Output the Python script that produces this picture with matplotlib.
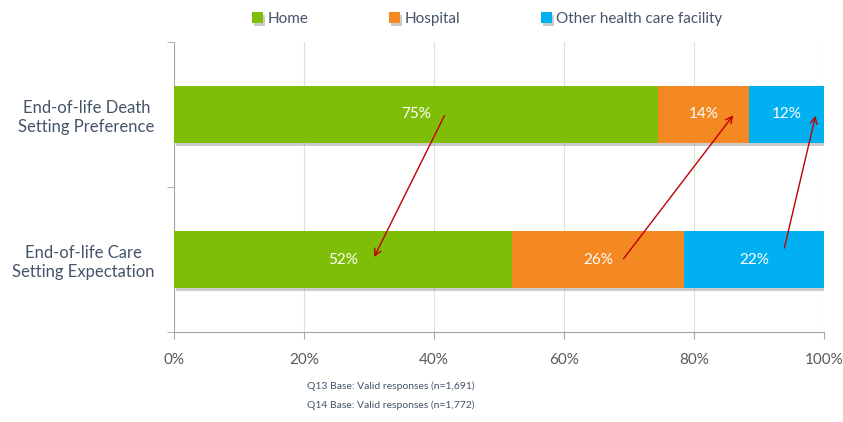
import matplotlib.pyplot as plt
import matplotlib.patheffects as pe
from matplotlib.ticker import MultipleLocator, FixedLocator

plt.rcParams['font.family'] = ['Lato', 'DejaVu Sans']

categories = ['End-of-life Care\nSetting Expectation', 'End-of-life Death\nSetting Preference']
series = ['Home', 'Hospital', 'Other health care facility']
home = [52.0, 74.5]
hospital = [26.5, 14.0]
other = [21.5, 11.5]
labels = [['52%', '75%'], ['26%', '14%'], ['22%', '12%']]
colors = ['#7FBE08', '#F48823', '#00B0F0']

# arrows: (x_from, y_from) -> (x_to, y_to) in data units
arrows = [((41.8, 1.01), (30.6, 0.0)),
          ((68.9, -0.01), (86.3, 1.01)),
          ((93.8, 0.06), (98.8, 1.01))]

fig = plt.figure(figsize=(8.43, 4.22), dpi=100)
ax = fig.add_axes([174/843, 90/422, 650/843, 290/422])

y = range(len(categories))
left = [0, 0]
shadow = [pe.SimplePatchShadow(offset=(1.5, -2), shadow_rgbFace='#8C8C8C', alpha=0.45), pe.Normal()]
for vals, lab, col, name in zip([home, hospital, other], labels, colors, series):
    bars = ax.barh(y, vals, left=left, height=0.39, color=col, label=name, zorder=3)
    for b in bars:
        b.set_path_effects(shadow)
    for i, v in enumerate(vals):
        ax.text(left[i] + v / 2, i, lab[i], ha='center', va='center', color='white', fontsize=11, zorder=5)
    left = [l + v for l, v in zip(left, vals)]

for (x0, y0), (x1, y1) in arrows:
    ax.annotate('', xy=(x1, y1), xytext=(x0, y0),
                arrowprops=dict(arrowstyle='->', color='#C00000', lw=1.0, mutation_scale=12), zorder=6)

ax.set_xlim(0, 100)
ax.set_ylim(-0.5, 1.5)
ax.xaxis.set_major_locator(MultipleLocator(20))
ax.set_xticklabels([f'{int(t)}%' for t in ax.get_xticks()])
ax.grid(axis='x', color='#D7E9C8', lw=0.8, zorder=0)
ax.set_yticks(list(y))
ax.set_yticklabels(categories, multialignment='center', linespacing=1.25)
ax.yaxis.set_minor_locator(FixedLocator([-0.5, 0.5, 1.5]))
ax.tick_params(axis='y', which='major', length=0, pad=14, labelsize=12, labelcolor='#44546A')
ax.tick_params(axis='y', which='minor', length=5, color='#A6A6A6')
ax.tick_params(axis='x', length=5, color='#A6A6A6', pad=10, labelsize=11, labelcolor='#595959')
for s in ['top', 'right']:
    ax.spines[s].set_visible(False)
for s in ['left', 'bottom']:
    ax.spines[s].set_color('#A6A6A6')

leg = fig.legend(loc='center', bbox_to_anchor=(0.578, 0.955), ncol=3, frameon=False,
                 fontsize=11, handlelength=0.7, handleheight=0.7, handletextpad=0.3,
                 columnspacing=5.3)
for t in leg.get_texts():
    t.set_color('#44546A')

fig.text(307/843, 1 - 386/422, 'Q13 Base: Valid responses (n=1,691)', fontsize=7.5, color='#44546A', va='center')
fig.text(307/843, 1 - 405/422, 'Q14 Base: Valid responses (n=1,772)', fontsize=7.5, color='#44546A', va='center')

fig.savefig('out.png', dpi=100)
